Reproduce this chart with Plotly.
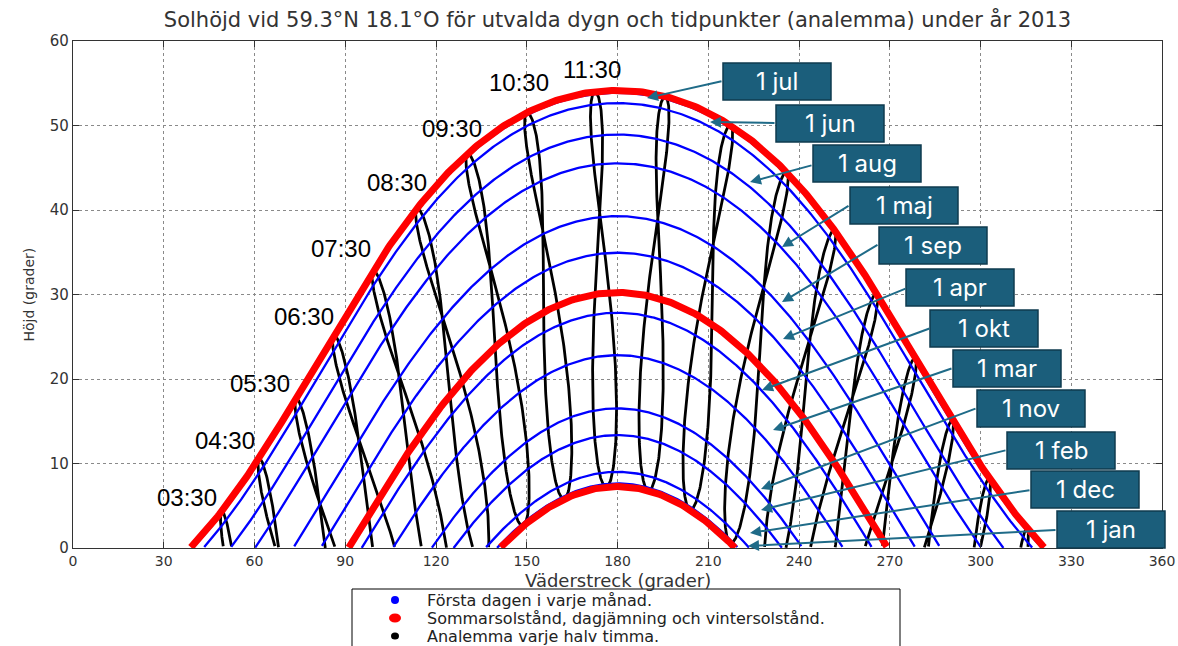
import numpy as np
import plotly.graph_objects as go

# ---------------- data ----------------
LAT = 59.3          # degrees north (title)
LON = 18.1          # degrees east (title)
TZ = 1              # CET (normal time) used for the analemma clock times
YEAR = 2013

month_labels = ['1 jan', '1 feb', '1 mar', '1 apr', '1 maj', '1 jun',
                '1 jul', '1 aug', '1 sep', '1 okt', '1 nov', '1 dec']
month_doy = [1, 32, 60, 91, 121, 152, 182, 213, 244, 274, 305, 335]

special_labels = ['Sommarsolstånd', 'Dagjämning', 'Vintersolstånd']
special_doy = [172, 79, 355]

analemma_times = ['03:30', '04:30', '05:30', '06:30', '07:30', '08:30', '09:30',
                  '10:30', '11:30', '12:30', '13:30', '14:30', '15:30', '16:30',
                  '17:30', '18:30', '19:30', '20:30']
labelled_times = ['03:30', '04:30', '05:30', '06:30', '07:30', '08:30',
                  '09:30', '10:30', '11:30']

callout_order = ['1 jul', '1 jun', '1 aug', '1 maj', '1 sep', '1 apr',
                 '1 okt', '1 mar', '1 nov', '1 feb', '1 dec', '1 jan']

x_ticks = list(range(0, 361, 30))
y_ticks = list(range(0, 61, 10))

legend_names = ['Första dagen i varje månad.',
                'Sommarsolstånd, dagjämning och vintersolstånd.',
                'Analemma varje halv timma.']


# ---------------- solar geometry ----------------
def sun_position(doy, minutes):
    g = 2 * np.pi / 365.0 * (doy - 1 + (minutes / 60.0 - 12) / 24.0)
    eqt = 229.18 * (0.000075 + 0.001868 * np.cos(g) - 0.032077 * np.sin(g)
                    - 0.014615 * np.cos(2 * g) - 0.040849 * np.sin(2 * g))
    decl = (0.006918 - 0.399912 * np.cos(g) + 0.070257 * np.sin(g)
            - 0.006758 * np.cos(2 * g) + 0.000907 * np.sin(2 * g)
            - 0.002697 * np.cos(3 * g) + 0.00148 * np.sin(3 * g))
    tst = minutes + eqt + 4 * LON - 60 * TZ
    ha = np.radians(tst / 4.0 - 180.0)
    lat = np.radians(LAT)
    sin_alt = np.sin(lat) * np.sin(decl) + np.cos(lat) * np.cos(decl) * np.cos(ha)
    alt = np.degrees(np.arcsin(sin_alt))
    az = np.degrees(np.arctan2(np.sin(ha),
                               np.cos(ha) * np.sin(lat) - np.tan(decl) * np.cos(lat))) + 180.0
    return az, alt


def day_curve(doy):
    m = np.arange(0, 24 * 60 + 1, 2.0)
    az, alt = sun_position(doy, m)
    keep = alt >= 0
    return az[keep], alt[keep]


def analemma(label):
    hh, mm = label.split(':')
    minutes = int(hh) * 60 + int(mm)
    days = np.arange(1, 366)
    days = np.append(days, 1)
    az, alt = sun_position(days, np.full(days.shape, float(minutes)))
    az_l = [float(a) if h >= 0 else None for a, h in zip(az, alt)]
    alt_l = [float(h) if h >= 0 else None for h in alt]
    return az_l, alt_l


fig = go.Figure()

# analemmas (black, drawn first)
for t in analemma_times:
    ax_, al_ = analemma(t)
    fig.add_trace(go.Scatter(x=ax_, y=al_, mode='lines', connectgaps=False,
                             line=dict(color='black', width=2.8),
                             name='Analemma ' + t, showlegend=False, hoverinfo='skip'))

# first day of every month (blue)
for lab, d in zip(month_labels, month_doy):
    ax_, al_ = day_curve(d)
    fig.add_trace(go.Scatter(x=ax_, y=al_, mode='lines',
                             line=dict(color='#0000ff', width=2.3),
                             name=lab, showlegend=False, hoverinfo='skip'))

# solstices and equinox (red)
for lab, d in zip(special_labels, special_doy):
    ax_, al_ = day_curve(d)
    fig.add_trace(go.Scatter(x=ax_, y=al_, mode='lines',
                             line=dict(color='#ff0000', width=7),
                             name=lab, showlegend=False, hoverinfo='skip'))

# ---------------- layout helpers (pixel -> paper) ----------------
L, R, T, B = 73, 1162, 41, 548
W, H = 1178, 646


def pxx(x):
    return (x - L) / (R - L)


def pxy(y):
    return (B - y) / (B - T)


annotations = []
shapes = []

# time labels
time_label_pos = {'03:30': (187, 497), '04:30': (225, 440), '05:30': (260, 383),
                  '06:30': (304, 316), '07:30': (341, 248), '08:30': (397, 182),
                  '09:30': (452, 128), '10:30': (519, 83), '11:30': (592, 70)}
for t in labelled_times:
    x, y = time_label_pos[t]
    annotations.append(dict(xref='paper', yref='paper', x=pxx(x), y=pxy(y),
                            text=t, showarrow=False, xanchor='center', yanchor='middle',
                            font=dict(family='Liberation Sans, Arial', size=24, color='black')))

# callout boxes + arrows
box_pos = {'1 jul': (723, 63), '1 jun': (776, 105), '1 aug': (813, 145),
           '1 maj': (850, 187), '1 sep': (879, 227), '1 apr': (906, 269),
           '1 okt': (930, 310), '1 mar': (953, 350), '1 nov': (977, 390),
           '1 feb': (1007, 432), '1 dec': (1031, 471), '1 jan': (1057, 511)}
arrow_pos = {'1 jul': ((723, 81), (647, 98)), '1 jun': ((776, 123), (710, 122)),
             '1 aug': ((813, 165), (750, 182)), '1 maj': ((850, 205), (782, 247)),
             '1 sep': ((879, 244), (782, 302)), '1 apr': ((907, 288), (783, 339)),
             '1 okt': ((931, 328), (762, 390)), '1 mar': ((953, 368), (773, 430)),
             '1 nov': ((977, 408), (761, 489)), '1 feb': ((1007, 450), (761, 510)),
             '1 dec': ((1031, 490), (750, 533)), '1 jan': ((1057, 530), (748, 546))}
BW, BH = 108, 37
box_fill = '#1b5e7b'
arrow_col = '#1f6b88'
for lab in callout_order:
    (tx, ty), (hx, hy) = arrow_pos[lab]
    annotations.append(dict(xref='paper', yref='paper', x=pxx(hx), y=pxy(hy),
                            ax=tx - hx, ay=ty - hy, text='', showarrow=True,
                            arrowhead=2, arrowsize=1.1, arrowwidth=2, arrowcolor=arrow_col,
                            standoff=0, startstandoff=0))
for lab in callout_order:
    bx, by = box_pos[lab]
    shapes.append(dict(type='rect', xref='paper', yref='paper',
                       x0=pxx(bx), x1=pxx(bx + BW), y0=pxy(by + BH), y1=pxy(by),
                       fillcolor=box_fill, line=dict(color='#0f3b4f', width=1.5),
                       layer='above'))
    annotations.append(dict(xref='paper', yref='paper', x=pxx(bx + BW / 2), y=pxy(by + BH / 2),
                            text=lab, showarrow=False, xanchor='center', yanchor='middle',
                            font=dict(family='Inter, Open Sans', size=24, color='white')))

# axis titles
annotations.append(dict(xref='paper', yref='paper', x=0.5, y=pxy(580),
                        text='Väderstreck (grader)', showarrow=False,
                        xanchor='center', yanchor='middle',
                        font=dict(family='DejaVu Sans', size=18, color='#333')))
annotations.append(dict(xref='paper', yref='paper', x=pxx(28), y=0.5,
                        text='Höjd (grader)', showarrow=False, textangle=-90,
                        xanchor='center', yanchor='middle',
                        font=dict(family='DejaVu Sans', size=14, color='#333')))

# legend (frame, symbols, texts)
shapes.append(dict(type='rect', xref='paper', yref='paper',
                   x0=pxx(352), x1=pxx(900), y0=pxy(680), y1=pxy(589),
                   fillcolor='white', line=dict(color='black', width=1), layer='below'))
leg_colors = ['#0000ff', '#ff0000', 'black']
leg_w = [8, 12, 8]
leg_h = [8, 9, 7]
leg_y = [600, 618, 636]
for nm, c, w_, h_, yy in zip(legend_names, leg_colors, leg_w, leg_h, leg_y):
    shapes.append(dict(type='circle', xref='paper', yref='paper',
                       xsizemode='pixel', ysizemode='pixel',
                       xanchor=pxx(395), yanchor=pxy(yy),
                       x0=-w_ / 2, x1=w_ / 2, y0=-h_ / 2, y1=h_ / 2,
                       fillcolor=c, line=dict(color=c, width=0), layer='above'))
    annotations.append(dict(xref='paper', yref='paper', x=pxx(425), y=pxy(yy),
                            text=nm, showarrow=False, xanchor='left', yanchor='middle',
                            font=dict(family='DejaVu Sans', size=16, color='#222')))

fig.update_layout(
    width=W, height=H,
    margin=dict(l=L, r=W - R, t=T, b=H - B, pad=0, autoexpand=False),
    paper_bgcolor='white', plot_bgcolor='white',
    showlegend=False,
    title=dict(text='Solhöjd vid 59.3°N 18.1°O för utvalda dygn och tidpunkter (analemma) under år 2013',
               x=0.5, xref='paper', xanchor='center', y=1 - 20 / H, yref='container',
               yanchor='middle', font=dict(family='DejaVu Sans', size=21, color='#333')),
    xaxis=dict(range=[0, 360], tickvals=x_ticks, ticktext=[str(v) for v in x_ticks],
               showgrid=True, gridcolor='#8a8a8a', griddash='dot', gridwidth=1,
               showline=True, linecolor='#333', linewidth=1.2, mirror='ticks',
               ticks='inside', ticklen=6, tickcolor='#333', zeroline=False,
               ticklabelstandoff=0,
               tickfont=dict(family='DejaVu Sans', size=14, color='#333')),
    yaxis=dict(range=[0, 60], tickvals=y_ticks, ticktext=[str(v) for v in y_ticks],
               showgrid=True, gridcolor='#8a8a8a', griddash='dot', gridwidth=1,
               showline=True, linecolor='#333', linewidth=1.2,
               mirror='ticks', ticks='inside', ticklen=6, tickcolor='#333', zeroline=False,
               tickfont=dict(family='DejaVu Sans', size=15, color='#333')),
    annotations=annotations, shapes=shapes,
)

fig.write_html('out.html', config={'displayModeBar': False},
               post_script="document.body.style.margin='0';document.body.style.overflow='hidden';")
